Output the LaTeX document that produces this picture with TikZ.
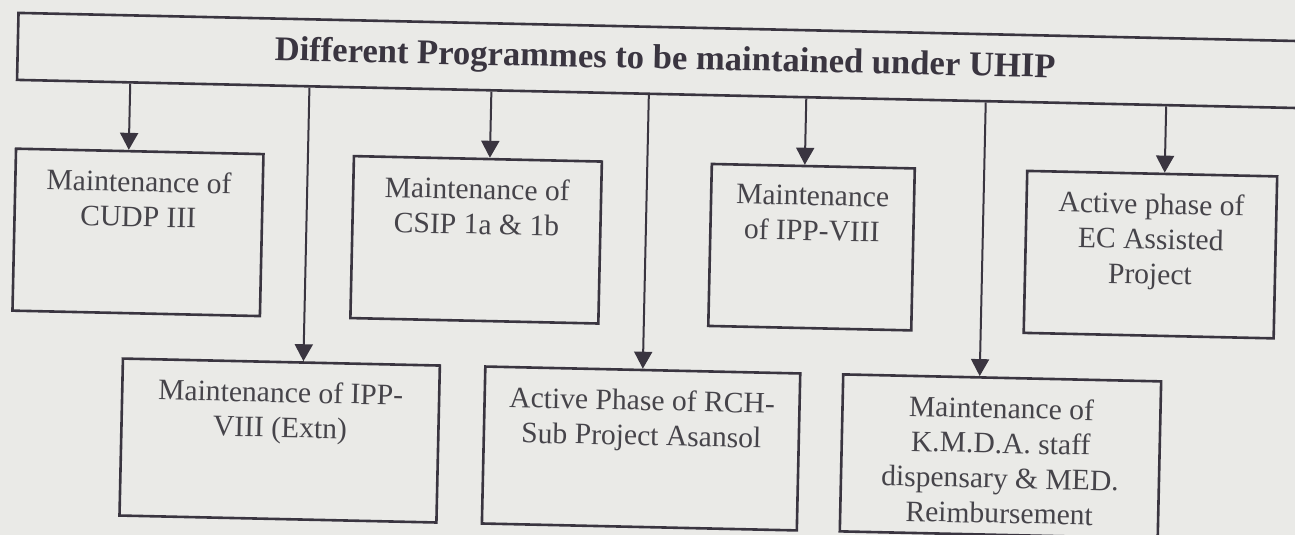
\documentclass[tikz,border=0pt]{standalone}
\usepackage{fontspec}
\setmainfont{Liberation Serif}
\usepackage{xcolor}
\usetikzlibrary{arrows.meta}

\definecolor{paperbg}{RGB}{234,234,231}
\definecolor{ink}{RGB}{58,53,64}
\definecolor{inktext}{RGB}{70,68,74}

% text of a programme box, set at its top
\newcommand{\progtext}[3]{\parbox[t][#2][t]{#1}{\centering\vspace*{19.5pt}#3}}

\begin{document}
\begin{tikzpicture}[x=1pt, y=-1pt,
    prog/.style={draw=ink, line width=2.6pt, inner sep=0pt, anchor=north west,
        text=inktext, font=\fontsize{29.6}{35}\selectfont},
    headbox/.style={draw=ink, line width=2.6pt, inner sep=0pt, anchor=west,
        minimum width=1295pt, minimum height=67pt, text=ink,
        font=\bfseries\fontsize{34.6}{40}\selectfont},
    arr/.style={draw=ink, line width=2pt, -{Triangle[width=18pt,length=17pt]}}]
    \path[use as bounding box] (0,0) rectangle (1295,535);
    \fill[paperbg] (0,0) rectangle (1295,535);
    \clip (0,0) rectangle (1295,535);
    \begin{scope}[rotate=-1.26, transform shape]
    \node[headbox] (uhip) at (17.5,46) {Different Programmes to be maintained under UHIP};
    % upper row
    \node[prog] (cudp) at (18,147) {\progtext{247.5pt}{162pt}{Maintenance of\\CUDP III}};
    \node[prog] (csip) at (356,147) {\progtext{248pt}{162pt}{Maintenance of\\CSIP 1a \& 1b}};
    \node[prog] (ipp) at (714,147) {\progtext{203pt}{162pt}{Maintenance\\of IPP-VIII}};
    \node[prog] (ec) at (1029.5,147) {\progtext{250pt}{162pt}{Active phase of\\EC Assisted\\Project}};
    % lower row
    \node[prog] (ippx) at (129.5,354.5) {\progtext{317pt}{157pt}{Maintenance of IPP-\\VIII (Extn)}};
    \node[prog] (rch) at (492,354.5) {\progtext{315pt}{157pt}{Active Phase of RCH-\\Sub Project Asansol}};
    \node[prog] (kmda) at (850,354.5) {\progtext{318pt}{157pt}{Maintenance of\\K.M.D.A. staff\\dispensary \& MED.\\Reimbursement}};
    % arrows
    \draw[arr] ([xshift=-11pt]cudp.north |- uhip.south) -- ([xshift=-11pt]cudp.north);
    \draw[arr] ([xshift=22pt]ippx.north |- uhip.south) -- ([xshift=22pt]ippx.north);
    \draw[arr] ([xshift=12pt]csip.north |- uhip.south) -- ([xshift=12pt]csip.north);
    \draw[arr] (rch.north |- uhip.south) -- (rch.north);
    \draw[arr] ([xshift=-8.5pt]ipp.north |- uhip.south) -- ([xshift=-8.5pt]ipp.north);
    \draw[arr] ([xshift=-22.5pt]kmda.north |- uhip.south) -- ([xshift=-22.5pt]kmda.north);
    \draw[arr] ([xshift=12.5pt]ec.north |- uhip.south) -- ([xshift=12.5pt]ec.north);
    \end{scope}
\end{tikzpicture}
\end{document}
